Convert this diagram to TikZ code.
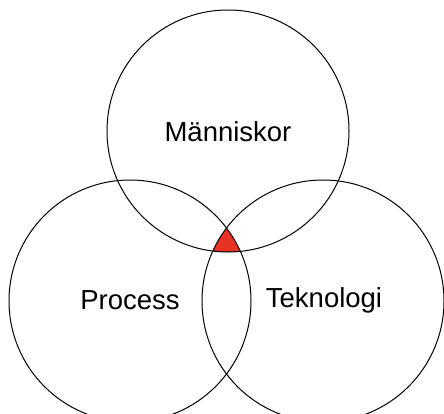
\documentclass[tikz,border=0pt]{standalone}
\usepackage{fontspec}
\setmainfont{Liberation Sans}
\definecolor{venred}{RGB}{232,50,35}
\begin{document}
\begin{tikzpicture}[x=1pt,y=-1pt,line width=1pt]
  \useasboundingbox (0,0) rectangle (444,414);
  \clip (0,0) rectangle (444,414);
  \coordinate (M) at (228,131);
  \coordinate (P) at (130,301);
  \coordinate (T) at (323,301);
  % gemensam yta
  \begin{scope}
    \clip (M) circle [radius=121];
    \clip (P) circle [radius=121];
    \fill[venred] (T) circle [radius=121];
  \end{scope}
  \draw (M) circle [radius=121];
  \draw (P) circle [radius=121];
  \draw (T) circle [radius=121];
  \node (manniskor) at (228,132) {\fontsize{27.5}{32}\selectfont Människor};
  \node (process) at (130,300) {\fontsize{27.5}{32}\selectfont Process};
  \node (teknologi) at (324,300) {\fontsize{27.5}{32}\selectfont Teknologi};
\end{tikzpicture}
\end{document}
